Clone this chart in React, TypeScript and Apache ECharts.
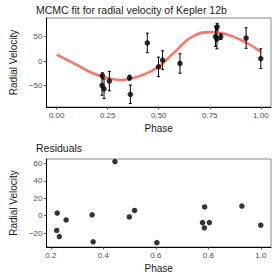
import React, { useEffect, useRef } from "react";
import * as echarts from "echarts";

// Observed data (phase-folded)
const phase = [0.222, 0.224, 0.232, 0.258, 0.357, 0.361, 0.444, 0.499, 0.519, 0.604, 0.778, 0.786, 0.785, 0.804, 0.928, 1.0];
const rv = [-50, -30, -57, -41, -34, -68, 37, -12, 2, -5, 50, 70, 45, 50, 47, 5];
const rvErr = [20, 6, 20, 20, 5, 19, 20, 20, 19, 20, 20, 7, 20, 6, 21, 20];
const residual = [-17, 3, -24, -5, 1, -30, 62, -1.5, 6, -31, -8, 10, -14, -8, 11, -11];

// MCMC fit curve
const curvePhase = [0, 0.097, 0.175, 0.252, 0.315, 0.354, 0.415, 0.494, 0.573, 0.667, 0.761, 0.823, 0.917, 1.0];
const curveRV = [13, -7.5, -24.5, -35.4, -38.8, -36.7, -29.3, -12.9, 16.3, 50.3, 59.2, 55.8, 40.1, 19];

// Tick labels
const topXTicks = [0, 0.25, 0.5, 0.75, 1.0];
const topYTicks = [-50, 0, 50];
const botXTicks = [0.2, 0.4, 0.6, 0.8, 1.0];
const botYTicks = [-20, 0, 20, 40, 60];

const FONT = "Liberation Sans, Arial, sans-serif";
const fmtNum = (v: number, d: number) => {
  const s = Math.abs(v).toFixed(d);
  return v < 0 ? "\u2212" + s : s;
};

function xAxis(gridIndex: number, min: number, max: number, ticks: number[], dec: number) {
  return {
    type: "value",
    gridIndex,
    min,
    max,
    name: "Phase",
    nameLocation: "middle",
    nameGap: 16,
    nameTextStyle: { color: "#1a1a1a", fontSize: 10, fontFamily: FONT },
    splitLine: { show: false },
    axisLine: { show: true, onZero: false, lineStyle: { color: "#000", width: 1 } },
    axisTick: { show: true, length: 2.5, customValues: ticks, lineStyle: { color: "#333", width: 0.8 } },
    axisLabel: {
      customValues: ticks,
      margin: 4,
      color: "#4d4d4d",
      fontSize: 8,
      fontFamily: FONT,
      formatter: (v: number) => fmtNum(v, dec),
    },
  };
}

function yAxis(gridIndex: number, min: number, max: number, ticks: number[]) {
  return {
    type: "value",
    gridIndex,
    min,
    max,
    name: "Radial Velocity",
    nameLocation: "middle",
    nameGap: 23,
    nameTextStyle: { color: "#1a1a1a", fontSize: 10, fontFamily: FONT },
    splitLine: { show: false },
    axisLine: { show: true, onZero: false, lineStyle: { color: "#000", width: 1 } },
    axisTick: { show: true, length: 2.5, customValues: ticks, lineStyle: { color: "#333", width: 0.8 } },
    axisLabel: {
      customValues: ticks,
      margin: 4,
      color: "#4d4d4d",
      fontSize: 8,
      fontFamily: FONT,
      formatter: (v: number) => fmtNum(v, 0),
    },
  };
}

export default function App() {
  const ref = useRef<HTMLDivElement>(null);
  useEffect(() => {
    if (!ref.current) return;
    const chart = echarts.init(ref.current, undefined, { renderer: "svg" });
    const errData = phase.map((p, i) => [p, rv[i] - rvErr[i], rv[i] + rvErr[i]]);
    const option = {
      animation: false,
      backgroundColor: "#fff",
      textStyle: { fontFamily: FONT },
      grid: [
        { left: 35, right: 6, top: 18, height: 89, show: true, borderColor: "#555", borderWidth: 0.7 },
        { left: 35, right: 6, top: 159, height: 88, show: true, borderColor: "#555", borderWidth: 0.7 },
      ],
      xAxis: [
        xAxis(0, -0.05, 1.05, topXTicks, 2),
        xAxis(1, 0.183, 1.039, botXTicks, 1),
      ],
      yAxis: [yAxis(0, -94, 88, topYTicks), yAxis(1, -36, 65, botYTicks)],
      graphic: [
        {
          type: "text",
          x: 36,
          y: 10,
          style: {
            text: "MCMC fit for radial velocity of Kepler 12b",
            fontSize: 10.5,
            fontFamily: FONT,
            fill: "#1a1a1a",
            verticalAlign: "middle",
          },
        },
        {
          type: "text",
          x: 36,
          y: 148,
          style: {
            text: "Residuals",
            fontSize: 10.5,
            fontFamily: FONT,
            fill: "#1a1a1a",
            verticalAlign: "middle",
          },
        },
      ],
      series: [
        {
          type: "line",
          xAxisIndex: 0,
          yAxisIndex: 0,
          data: curvePhase.map((p, i) => [p, curveRV[i]]),
          smooth: 0.5,
          showSymbol: false,
          lineStyle: { color: "#F8766D", width: 2.6 },
          z: 2,
        },
        {
          type: "custom",
          xAxisIndex: 0,
          yAxisIndex: 0,
          data: errData,
          encode: { x: 0, y: [1, 2] },
          z: 3,
          renderItem: (params: any, api: any) => {
            const x = api.value(0);
            const lo = api.coord([x, api.value(1)]);
            const hi = api.coord([x, api.value(2)]);
            const w = 1.5;
            const st = { stroke: "#000", lineWidth: 1 };
            return {
              type: "group",
              children: [
                { type: "line", shape: { x1: lo[0], y1: lo[1], x2: hi[0], y2: hi[1] }, style: st },
                { type: "line", shape: { x1: lo[0] - w, y1: lo[1], x2: lo[0] + w, y2: lo[1] }, style: st },
                { type: "line", shape: { x1: hi[0] - w, y1: hi[1], x2: hi[0] + w, y2: hi[1] }, style: st },
              ],
            };
          },
        },
        {
          type: "scatter",
          xAxisIndex: 0,
          yAxisIndex: 0,
          data: phase.map((p, i) => [p, rv[i]]),
          symbolSize: 5.5,
          itemStyle: { color: "#000" },
          z: 4,
        },
        {
          type: "scatter",
          xAxisIndex: 1,
          yAxisIndex: 1,
          data: phase.map((p, i) => [p, residual[i]]),
          symbolSize: 5.5,
          itemStyle: { color: "#000" },
          z: 4,
        },
      ],
    };
    chart.setOption(option as any);
    return () => chart.dispose();
  }, []);
  return (
    <div
      ref={ref}
      style={{ position: "fixed", left: 0, top: 0, width: 277, height: 277, background: "#fff" }}
    />
  );
}
